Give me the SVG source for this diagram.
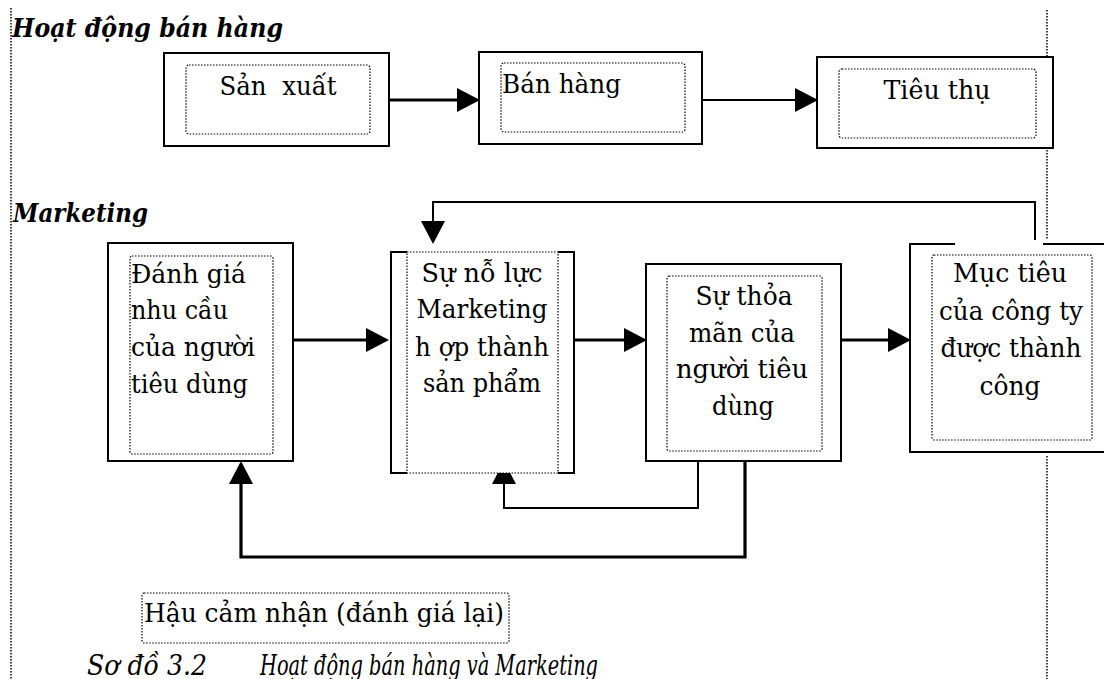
<svg xmlns="http://www.w3.org/2000/svg" width="1104" height="679" viewBox="0 0 1104 679">
<defs>
<style>
.bg{fill:#fff}
.box{fill:#fff;stroke:#000;stroke-width:2}
.sol{fill:none;stroke:#000;stroke-width:2}
.dot{fill:none;stroke:#000;stroke-width:1.2;stroke-dasharray:1.5 1.5}
.guide{fill:none;stroke:#000;stroke-width:1.5;stroke-dasharray:1.5 1.5}
.t{font-size:26px;fill:#000}
.c{text-anchor:middle}
.h{font-size:26px;font-weight:bold;font-style:italic;fill:#000}
.cap{font-size:27px;font-style:italic;fill:#000}
.thick{fill:none;stroke:#000;stroke-width:3.2}
.thin{fill:none;stroke:#000;stroke-width:2}
</style>
<marker id="ah" markerUnits="userSpaceOnUse" markerWidth="24" markerHeight="24" refX="10" refY="12" orient="auto" viewBox="0 0 24 24">
<path d="M0,0 L23,12 L0,24 z" fill="#000"/>
</marker>
</defs>
<rect class="bg" x="0" y="0" width="1104" height="679"/>

<g id="guides">
<line class="guide" x1="11" y1="8" x2="11" y2="679"/>
<line class="guide" x1="1047" y1="10" x2="1047" y2="57"/>
<line class="guide" x1="1047" y1="150" x2="1047" y2="240"/>
<line class="guide" x1="1047" y1="456" x2="1047" y2="679"/>
</g>

<g font-family="DejaVu Serif, Liberation Serif, serif">
<g id="title-sales">
<text class="h" x="12" y="37" textLength="271" lengthAdjust="spacingAndGlyphs">Hoạt động bán hàng</text>
</g>
<g id="title-marketing">
<text class="h" x="13" y="222" textLength="135" lengthAdjust="spacingAndGlyphs">Marketing</text>
</g>

<g id="connectors">
<path class="thick" d="M389,100 H467" marker-end="url(#ah)"/>
<path class="thin" d="M698,100 H805" marker-end="url(#ah)"/>
<path class="thick" d="M293,340 H376" marker-end="url(#ah)"/>
<path class="thick" d="M575,340 H634" marker-end="url(#ah)"/>
<path class="thick" d="M841,340 H898" marker-end="url(#ah)"/>
<path class="thin" d="M1035,240 V202 H433 V231" marker-end="url(#ah)"/>
<path class="thin" d="M698,461 V508 H504 V474" marker-end="url(#ah)"/>
<path class="thick" d="M745,461 V557 H241 V474" marker-end="url(#ah)"/>
</g>

<g id="node-san-xuat">
<rect class="box" x="164" y="53" width="225" height="93"/>
<rect class="dot" x="186" y="65" width="184" height="69" rx="3"/>
<text class="t c" x="278" y="95" textLength="117" lengthAdjust="spacingAndGlyphs" xml:space="preserve">Sản  xuất</text>
</g>

<g id="node-ban-hang">
<rect class="box" x="479" y="52" width="223" height="92"/>
<rect class="dot" x="501" y="63" width="184" height="69" rx="3"/>
<text class="t" x="502" y="93" textLength="119" lengthAdjust="spacingAndGlyphs">Bán hàng</text>
</g>

<g id="node-tieu-thu">
<rect class="box" x="817" y="57" width="236" height="91"/>
<rect class="dot" x="839" y="69" width="197" height="69" rx="3"/>
<text class="t c" x="937" y="99" textLength="107" lengthAdjust="spacingAndGlyphs">Tiêu thụ</text>
</g>

<g id="node-danh-gia">
<rect class="box" x="108" y="243" width="185" height="218"/>
<rect class="dot" x="130" y="256" width="143" height="198" rx="2"/>
<text class="t" x="131" y="283" textLength="115" lengthAdjust="spacingAndGlyphs">Đánh giá</text>
<text class="t" x="131" y="319" textLength="97" lengthAdjust="spacingAndGlyphs">nhu cầu</text>
<text class="t" x="131" y="356" textLength="124" lengthAdjust="spacingAndGlyphs">của người</text>
<text class="t" x="131" y="393" textLength="117" lengthAdjust="spacingAndGlyphs">tiêu dùng</text>
</g>

<g id="node-no-luc">
<rect class="bg" x="391" y="252" width="183" height="221"/>
<path class="sol" d="M407,252 H391 V473 H407 M558,252 H574 V473 H558"/>
<rect class="dot" x="407" y="252" width="151" height="221"/>
<text class="t c" x="482" y="282" textLength="121" lengthAdjust="spacingAndGlyphs">Sự nỗ lực</text>
<text class="t c" x="482" y="318" textLength="131" lengthAdjust="spacingAndGlyphs">Marketing</text>
<text class="t c" x="482" y="356" textLength="134" lengthAdjust="spacingAndGlyphs">h ợp thành</text>
<text class="t c" x="482" y="392" textLength="118" lengthAdjust="spacingAndGlyphs">sản phẩm</text>
</g>

<g id="node-thoa-man">
<rect class="box" x="646" y="264" width="195" height="197"/>
<rect class="dot" x="667" y="276" width="155" height="175" rx="2"/>
<text class="t c" x="744" y="305" textLength="97" lengthAdjust="spacingAndGlyphs">Sự thỏa</text>
<text class="t c" x="742" y="342" textLength="106" lengthAdjust="spacingAndGlyphs">mãn của</text>
<text class="t c" x="742" y="378" textLength="132" lengthAdjust="spacingAndGlyphs">người tiêu</text>
<text class="t c" x="743" y="415" textLength="62" lengthAdjust="spacingAndGlyphs">dùng</text>
</g>

<g id="node-muc-tieu">
<rect class="bg" x="910" y="244" width="200" height="208"/>
<path class="sol" d="M955,244 H910 V452 H1110 M1043,244 H1110"/>
<rect class="dot" x="932" y="255" width="160" height="185" rx="2"/>
<text class="t c" x="1010" y="282" textLength="114" lengthAdjust="spacingAndGlyphs">Mục tiêu</text>
<text class="t c" x="1011" y="320" textLength="144" lengthAdjust="spacingAndGlyphs">của công ty</text>
<text class="t c" x="1011" y="357" textLength="141" lengthAdjust="spacingAndGlyphs">được thành</text>
<text class="t c" x="1010" y="395" textLength="61" lengthAdjust="spacingAndGlyphs">công</text>
</g>

<g id="label-hau-cam-nhan">
<rect class="dot" x="142" y="593" width="367" height="50" rx="2"/>
<text class="t" x="144" y="622" textLength="360" lengthAdjust="spacingAndGlyphs">Hậu cảm nhận (đánh giá lại)</text>
</g>

<g id="caption">
<text class="cap" x="87" y="675" textLength="120" lengthAdjust="spacingAndGlyphs">Sơ đồ 3.2</text>
<text class="cap" x="260" y="675" textLength="338" lengthAdjust="spacingAndGlyphs">Hoạt động bán hàng và Marketing</text>
</g>
</g>
</svg>
